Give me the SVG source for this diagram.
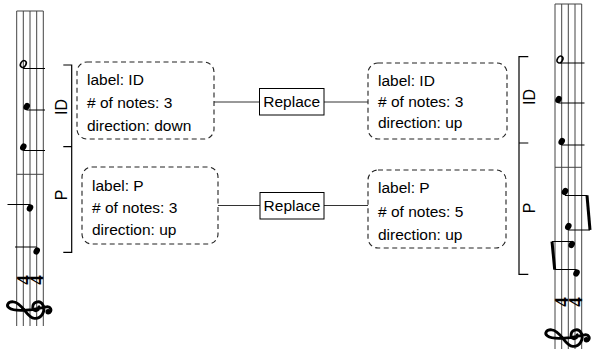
<svg xmlns="http://www.w3.org/2000/svg" xmlns:xlink="http://www.w3.org/1999/xlink" width="592" height="352" viewBox="0 0 592 352">
<style>
.txt{font-family:"Liberation Sans",Arial,sans-serif;font-size:15.5px;fill:#000}
.dash{fill:#fff;stroke:#222;stroke-width:1.1;stroke-dasharray:5 3.5}
.box{fill:#fff;stroke:#000;stroke-width:1}
.conn{stroke:#333;stroke-width:1;fill:none}
.staff{stroke:#444;stroke-width:1;fill:none}
.stem{stroke:#000;stroke-width:1;fill:none}
.beam{stroke:#000;stroke-width:3;fill:none}
.head{fill:#000}
.hhead{fill:none;stroke:#000;stroke-width:1.6}
.brk{stroke:#000;stroke-width:1.2;fill:none}
.lbl{font-family:"Liberation Sans",Arial,sans-serif;font-size:16px;fill:#000}
.ts{font-family:"Liberation Serif","Times New Roman",serif;font-size:19px;font-weight:bold;fill:#000}
</style>
<defs>
<g id="clef">
<path d="M 2 8 C -2 8.5 -3 3 1 2.5 C 6.5 2 8.5 9 4 11.5 C -1 14.5 -9 11 -8.5 4 C -8 -3 6 -7 6.5 -15 C 7 -20 3 -22 1 -19 C -2 -15 -1.5 -6 -0.5 2 L 2 15 C 2.5 19 -1 20 -3 18" fill="none" stroke="#000" stroke-width="2.6" stroke-linecap="round"/>
<circle cx="-2.6" cy="16.5" r="2.5" fill="#000"/>
</g>
</defs>

<!-- Left staff -->
<g id="staff-left">
<g class="staff">
<line x1="16.7" y1="11" x2="16.7" y2="326"/>
<line x1="23.3" y1="11" x2="23.3" y2="326"/>
<line x1="30" y1="11" x2="30" y2="326"/>
<line x1="36.7" y1="11" x2="36.7" y2="326"/>
<line x1="43.3" y1="11" x2="43.3" y2="326"/>
<line x1="16.7" y1="11" x2="43.3" y2="11"/>
<line x1="16.7" y1="174.3" x2="43.3" y2="174.3"/>
</g>
<use xlink:href="#clef" transform="translate(30,309) rotate(-90) scale(1.1)"/>
<text class="ts" text-anchor="middle" dominant-baseline="central" transform="translate(23.3,280) rotate(-90)">4</text>
<text class="ts" text-anchor="middle" dominant-baseline="central" transform="translate(36.7,280) rotate(-90)">4</text>
<ellipse class="hhead" cx="23.3" cy="64" rx="3.6" ry="2.6" transform="rotate(-60 23.3 64)"/>
<line class="stem" x1="23" y1="68.5" x2="45" y2="68.5"/>
<ellipse class="head" cx="26.7" cy="106.5" rx="3.8" ry="3" transform="rotate(-60 26.7 106.5)"/>
<line class="stem" x1="26.7" y1="110" x2="45" y2="110"/>
<ellipse class="head" cx="23.3" cy="147" rx="3.8" ry="3" transform="rotate(-60 23.3 147)"/>
<line class="stem" x1="23.3" y1="150.5" x2="45" y2="150.5"/>
<ellipse class="head" cx="30" cy="208" rx="3.8" ry="3" transform="rotate(-60 30 208)"/>
<line class="stem" x1="7.5" y1="204.5" x2="30" y2="204.5"/>
<ellipse class="head" cx="36.7" cy="251" rx="3.8" ry="3" transform="rotate(-60 36.7 251)"/>
<line class="stem" x1="15" y1="247" x2="36.7" y2="247"/>
</g>

<!-- Right staff -->
<g id="staff-right">
<g class="staff">
<line x1="555" y1="4" x2="555" y2="349"/>
<line x1="561.7" y1="4" x2="561.7" y2="349"/>
<line x1="568.3" y1="4" x2="568.3" y2="349"/>
<line x1="575" y1="4" x2="575" y2="349"/>
<line x1="581.7" y1="4" x2="581.7" y2="349"/>
<line x1="555" y1="4" x2="581.7" y2="4"/>
<line x1="555" y1="167.3" x2="581.7" y2="167.3"/>
</g>
<use xlink:href="#clef" transform="translate(568.3,337) rotate(-90) scale(1.1)"/>
<text class="ts" text-anchor="middle" dominant-baseline="central" transform="translate(561.7,302) rotate(-90)">4</text>
<text class="ts" text-anchor="middle" dominant-baseline="central" transform="translate(575,302) rotate(-90)">4</text>
<ellipse class="hhead" cx="560" cy="59.5" rx="3.6" ry="2.6" transform="rotate(-60 560 59.5)"/>
<line class="stem" x1="560" y1="63" x2="584.5" y2="63"/>
<ellipse class="head" cx="558.5" cy="99.5" rx="3.8" ry="3" transform="rotate(-60 558.5 99.5)"/>
<line class="stem" x1="558.5" y1="103" x2="584.5" y2="103"/>
<ellipse class="head" cx="561.7" cy="141.5" rx="3.8" ry="3" transform="rotate(-60 561.7 141.5)"/>
<line class="stem" x1="561.7" y1="145" x2="584.5" y2="145"/>
<ellipse class="head" cx="565" cy="191.5" rx="3.8" ry="3" transform="rotate(-60 565 191.5)"/>
<line class="stem" x1="565" y1="195.5" x2="587.5" y2="195.5"/>
<ellipse class="head" cx="568.3" cy="226.5" rx="3.8" ry="3" transform="rotate(-60 568.3 226.5)"/>
<line class="stem" x1="568.3" y1="230" x2="590" y2="230"/>
<line class="beam" x1="587" y1="195.5" x2="590" y2="230"/>
<ellipse class="head" cx="571.7" cy="244.5" rx="3.8" ry="3" transform="rotate(-60 571.7 244.5)"/>
<line class="stem" x1="552" y1="241.5" x2="571.7" y2="241.5"/>
<ellipse class="head" cx="576.5" cy="273" rx="3.8" ry="3" transform="rotate(-60 576.5 273)"/>
<line class="stem" x1="554.5" y1="269.5" x2="576.5" y2="269.5"/>
<line class="beam" x1="552" y1="241.5" x2="554.7" y2="269.5"/>
</g>

<!-- Brackets with labels -->
<g id="bracket-left">
<path class="brk" d="M 63.3 65 H 71.7 V 252.3 H 63.3 M 63.3 146.7 H 71.7"/>
<text class="lbl" text-anchor="middle" transform="translate(66.7,107) rotate(-90)">ID</text>
<text class="lbl" text-anchor="middle" transform="translate(66.7,195) rotate(-90)">P</text>
</g>
<g id="bracket-right">
<path class="brk" d="M 528.3 56.7 H 519 V 274.3 H 528.3 M 519 143 H 528.3"/>
<text class="lbl" text-anchor="middle" transform="translate(535,97) rotate(-90)">ID</text>
<text class="lbl" text-anchor="middle" transform="translate(535,208) rotate(-90)">P</text>
</g>

<!-- Connectors -->
<g id="connectors">
<line class="conn" x1="214" y1="102" x2="259.5" y2="102"/>
<line class="conn" x1="324" y1="102" x2="368" y2="102"/>
<line class="conn" x1="218" y1="205.5" x2="260" y2="205.5"/>
<line class="conn" x1="324" y1="205.5" x2="368" y2="205.5"/>
</g>

<!-- Nodes -->
<g id="node-left-id">
<rect class="dash" x="77" y="62" width="137" height="77" rx="10"/>
<text class="txt" x="87" y="84.5">label: ID</text>
<text class="txt" x="87" y="108"># of notes: 3</text>
<text class="txt" x="87" y="131">direction: down</text>
</g>
<g id="node-left-p">
<rect class="dash" x="82" y="167" width="136" height="77" rx="10"/>
<text class="txt" x="92" y="191">label: P</text>
<text class="txt" x="92" y="213"># of notes: 3</text>
<text class="txt" x="92" y="235">direction: up</text>
</g>
<g id="node-replace-1">
<rect class="box" x="259.5" y="88.5" width="64.5" height="26.5"/>
<text class="txt" x="291.7" y="107" text-anchor="middle">Replace</text>
</g>
<g id="node-replace-2">
<rect class="box" x="260" y="192.5" width="64" height="26.5"/>
<text class="txt" x="292" y="211" text-anchor="middle">Replace</text>
</g>
<g id="node-right-id">
<rect class="dash" x="368" y="63" width="139" height="76" rx="10"/>
<text class="txt" x="378" y="86">label: ID</text>
<text class="txt" x="378" y="107"># of notes: 3</text>
<text class="txt" x="378" y="128">direction: up</text>
</g>
<g id="node-right-p">
<rect class="dash" x="368" y="170" width="138" height="78" rx="10"/>
<text class="txt" x="378" y="193">label: P</text>
<text class="txt" x="378" y="217"># of notes: 5</text>
<text class="txt" x="378" y="240">direction: up</text>
</g>
</svg>
